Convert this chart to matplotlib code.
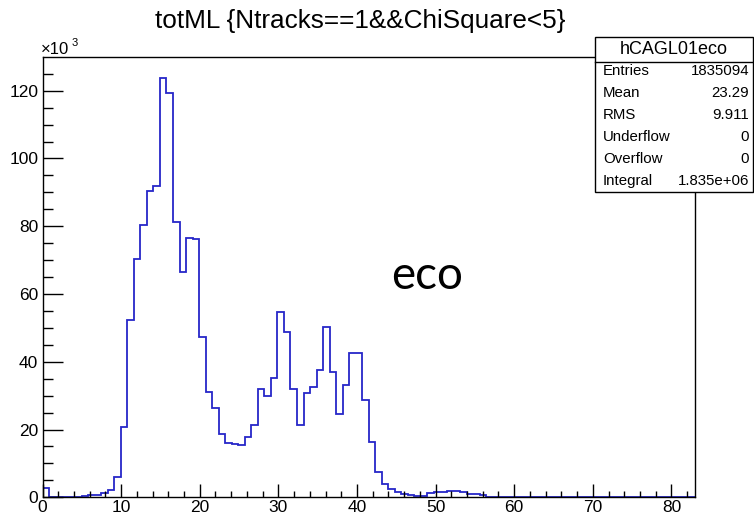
import matplotlib
matplotlib.use("Agg")
import matplotlib.pyplot as plt
from matplotlib.ticker import MultipleLocator
from matplotlib.patches import Rectangle
import numpy as np

# Histogram binning (100 bins on [0, 83])
x_min, x_max, n_bins = 0.0, 83.0, 100

# Bin contents in units of 10^3 entries
counts_k = [
    2.7, 0.0, 0.0, 0.0, 0.0, 0.0, 0.4, 0.7, 0.8, 1.2,
    2.2, 5.9, 20.7, 52.2, 70.4, 80.4, 90.3, 92.0, 123.7, 119.2,
    81.3, 66.6, 76.5, 76.2, 47.3, 31.2, 26.3, 18.6, 15.9, 15.8,
    15.5, 17.7, 21.4, 32.1, 30.0, 35.1, 54.8, 48.9, 32.1, 21.4,
    30.7, 32.5, 37.6, 50.4, 37.0, 24.5, 33.2, 42.5, 42.5, 28.7,
    16.2, 7.4, 3.9, 2.5, 1.7, 1.0, 0.7, 0.4, 0.4, 1.2,
    1.6, 1.6, 1.9, 1.9, 1.5, 1.0, 1.0, 0.6, 0.0, 0.0,
] + [0.0] * 30

title_text = "totML {Ntracks==1&&ChiSquare<5}"
hist_name = "hCAGL01eco"
stat_labels = ["Entries", "Mean", "RMS", "Underflow", "Overflow", "Integral"]
stat_values = ["1835094", "23.29", "9.911", "0", "0", "1.835e+06"]
annotation = "eco"

W, H = 754, 523
plt.rcParams["font.family"] = ["Liberation Sans", "DejaVu Sans"]

fig = plt.figure(figsize=(W / 100, H / 100), dpi=100)

# Frame geometry in pixels
left, right, top, bottom = 42.5, 695.0, 57.5, 497.3
ax = fig.add_axes([left / W, 1 - bottom / H, (right - left) / W, (bottom - top) / H])

edges = np.linspace(x_min, x_max, n_bins + 1)
ax.stairs(counts_k, edges, baseline=0, color="#2626c8", linewidth=1.3)

ax.set_xlim(x_min, x_max)
ax.set_ylim(0, 129.8)

ax.xaxis.set_major_locator(MultipleLocator(10))
ax.xaxis.set_minor_locator(MultipleLocator(2))
ax.yaxis.set_major_locator(MultipleLocator(20))
ax.yaxis.set_minor_locator(MultipleLocator(5))

ax.tick_params(axis="x", which="major", direction="in", length=9.5, width=1,
               labelsize=12.5, pad=2, top=False)
ax.tick_params(axis="x", which="minor", direction="in", length=4.5, width=1, top=False)
ax.tick_params(axis="y", which="major", direction="in", length=14.5, width=1,
               labelsize=12.5, pad=3, right=False)
ax.tick_params(axis="y", which="minor", direction="in", length=7.2, width=1, right=False)
for sp in ax.spines.values():
    sp.set_linewidth(1.0)
    sp.set_color("black")

# Overlay in pixel coordinates for title, exponent and the statistics box
ov = fig.add_axes([0, 0, 1, 1], zorder=10)
ov.set_xlim(0, W)
ov.set_ylim(H, 0)
ov.axis("off")
ov.patch.set_alpha(0)

ov.text(360, 21, title_text, ha="center", va="center", fontsize=18.8)
ov.text(41, 50, "\u00d710", ha="left", va="center", fontsize=12)
ov.text(71.5, 43, "3", ha="left", va="center", fontsize=8)

bx0, by0, bx1, by1 = 595.0, 37.0, 753.0, 192.0
ov.add_patch(Rectangle((bx0, by0), bx1 - bx0, by1 - by0, facecolor="white",
                       edgecolor="black", linewidth=1.0))
ov.plot([bx0, bx1], [62.3, 62.3], color="black", linewidth=1.0)
ov.text((bx0 + bx1) / 2, 50, hist_name, ha="center", va="center", fontsize=13)
row_y0, row_dy = 71.0, 22.0
for i, (lab, val) in enumerate(zip(stat_labels, stat_values)):
    y = row_y0 + i * row_dy
    ov.text(603, y, lab, ha="left", va="center", fontsize=10.8)
    ov.text(749, y, val, ha="right", va="center", fontsize=10.8)

ov.text(427, 276, annotation, ha="center", va="center", fontsize=33,
        family=["Lato", "DejaVu Sans"])

fig.savefig("out.png", dpi=100)
